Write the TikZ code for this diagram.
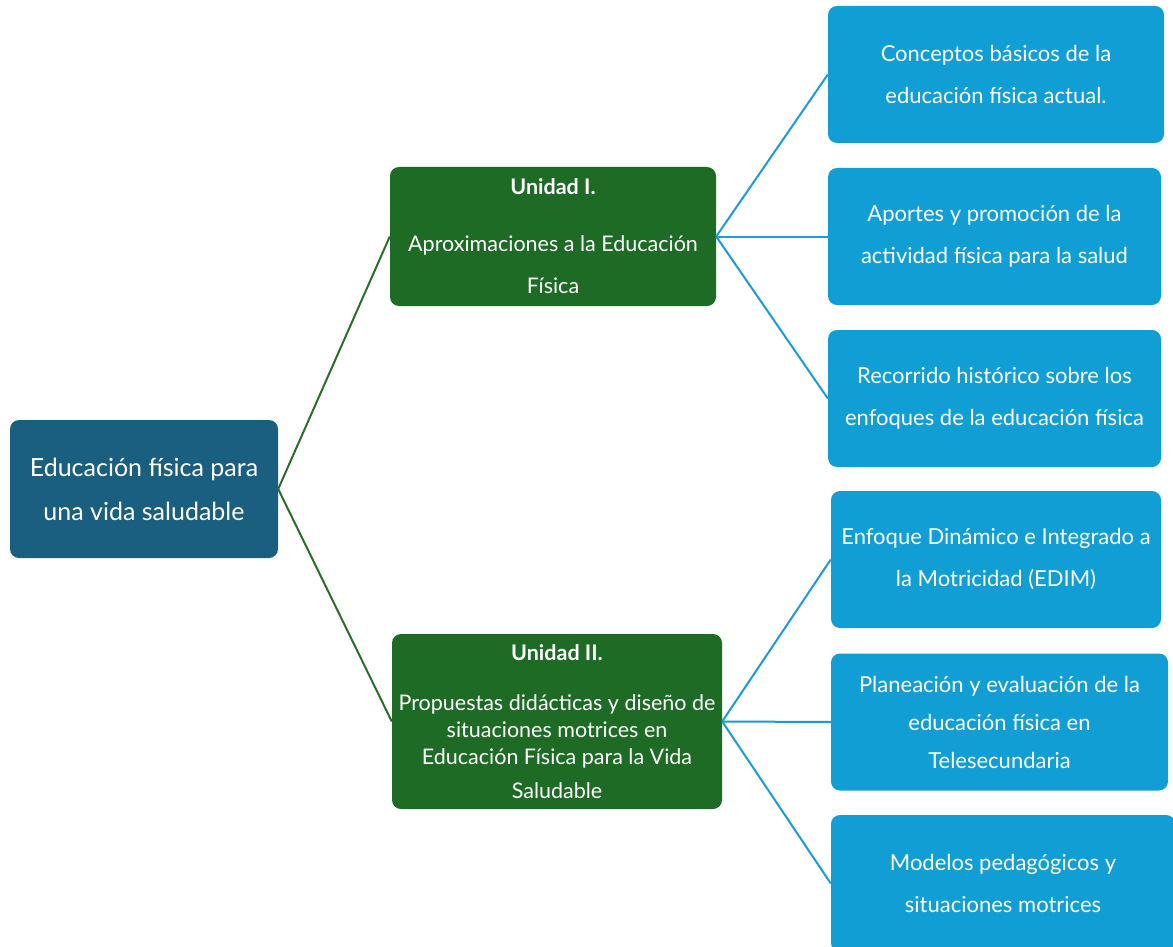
\documentclass[tikz,border=0pt]{standalone}
\usepackage{fontspec}
\setmainfont{Lato}
\definecolor{rootc}{HTML}{1A5F80}
\definecolor{unitc}{HTML}{1D6B24}
\definecolor{leafc}{HTML}{119ED5}
\definecolor{glink}{HTML}{2A6E28}
\definecolor{blink}{HTML}{1B9BD7}
\begin{document}
\begin{tikzpicture}[x=1pt,y=-1pt,
  box/.style={rounded corners=9pt, text=white, align=center, inner sep=0pt},
  rootbox/.style={box, fill=rootc, minimum width=268pt, minimum height=138pt, font=\fontsize{25}{44}\selectfont},
  unitbox/.style={box, fill=unitc, font=\fontsize{21.5}{27}\selectfont},
  leafbox/.style={box, fill=leafc, minimum height=137pt, font=\fontsize{22}{42}\selectfont},
  glinkst/.style={draw=glink, line width=2pt},
  blinkst/.style={draw=blink, line width=2pt}]
\clip (0,0) rectangle (1173,947);
\fill[white] (0,0) rectangle (1173,947);

\node[rootbox] (root) at (144,489) {Educación física para\\una vida saludable};

\node[unitbox, minimum width=326pt, minimum height=139pt] (u1) at (553,236.5)
  {\textbf{Unidad I.}\\[30pt]Aproximaciones a la Educación\\[15pt]Física};
\node[unitbox, minimum width=330pt, minimum height=175pt] (u2) at (557,721.5)
  {\textbf{Unidad II.}\\[23pt]Propuestas didácticas y diseño de\\situaciones motrices en\\Educación Física para la Vida\\[7pt]Saludable};

\node[leafbox, minimum width=336pt] (b1) at (996,74.5) {Conceptos básicos de la\\educación física actual.};
\node[leafbox, minimum width=333pt] (b2) at (994.5,236.5) {Aportes y promoción de la\\actividad física para la salud};
\node[leafbox, minimum width=333pt] (b3) at (994.5,398.5) {Recorrido histórico sobre los\\enfoques de la educación física};
\node[leafbox, minimum width=330pt] (b4) at (996,559.5) {Enfoque Dinámico e Integrado a\\la Motricidad (EDIM)};
\node[leafbox, minimum width=337pt, font=\fontsize{22}{38}\selectfont] (b5) at (999.5,722) {Planeación y evaluación de la\\educación física en\\Telesecundaria};
\node[leafbox, minimum width=344pt] (b6) at (1003,883.5) {Modelos pedagógicos y\\situaciones motrices};

\draw[glinkst] (root.east) -- (u1.west);
\draw[glinkst] (root.east) -- (u2.west);
\draw[blinkst] (u1.east) -- (b1.west);
\draw[blinkst] (u1.east) -- (b2.west);
\draw[blinkst] (u1.east) -- (b3.west);
\draw[blinkst] (u2.east) -- (b4.west);
\draw[blinkst] (u2.east) -- (b5.west);
\draw[blinkst] (u2.east) -- (b6.west);
\end{tikzpicture}
\end{document}
